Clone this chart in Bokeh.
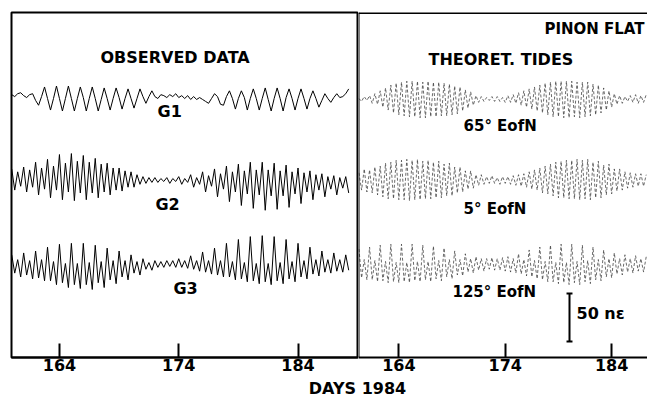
import numpy as np
from bokeh.plotting import figure
from bokeh.layouts import row, column
from bokeh.models import FixedTicker, Span, Label, Range1d
from bokeh.embed import file_html
from bokeh.resources import INLINE

# ---------------- data (strain in nanostrain) -------------
TICKS = [164, 174, 184]
LEFT_START, LEFT_STEP = 160.0, 0.25      # observed series sampling (days 1984)
RIGHT_START, RIGHT_STEP = 160.25, 0.25   # theoretical series sampling

G1 = [4, 2, 5, 6, 3, 1, 4, 5, -2, -7, 2, 12, 0, -12, 0, 13, 0, -13, 0, 13,
      0, -13, 0, 12, 1, -13, 0, 12, 0, -13, -1, 11, 0, -12, 0, 11, 1, -11, 0, 10,
      0, -10, 0, 10, 2, -5, 2, 8, 2, 0, 4, 3, 1, 4, 2, 5, 1, 3, 0, 3,
      -1, 2, -1, 1, -1, -3, -5, 0, 5, 2, -6, -7, 2, 8, 0, -11, 0, 8, 1, -12,
      0, 10, 0, -12, 0, 11, -1, -13, 0, 11, 0, -13, 1, 10, 0, -12, 0, 10, 0, -11,
      0, 8, 0, -9, -2, 5, 0, -4, 1, 5, 1, 2, 5, 10]
G2 = [12, -10, 9, -6, 14, -12, 11, -7, 19, -15, 13, -9, 22, -18, 15, -10,
      27, -20, 18, -12, 28, -21, 20, -13, 26, -20, 19, -13, 23, -18, 17, -12,
      18, -15, 13, -10, 13, -11, 10, -7, 9, -7, 6, -4, 4, -3, 3, -2,
      3, -2, 2, -1, 3, -3, 2, -1, 4, -4, 2, -2, 6, -7, 3, -4,
      9, -12, 5, -6, 12, -17, 7, -9, 15, -22, 9, -12, 17, -26, 10, -14,
      19, -29, 11, -15, 19, -31, 11, -16, 18, -30, 10, -16, 16, -28, 9, -14,
      13, -24, 8, -12, 10, -20, 6, -10, 7, -17, 4, -9, 5, -15, 3, -8, 4, -13]
G3 = [9, -10, 4, -14, 11, -12, 3, -16, 13, -15, 4, -18, 17, -18, 2, -22,
      20, -20, 0, -25, 21, -22, 0, -26, 21, -22, 1, -27, 19, -20, 2, -25,
      16, -17, 3, -21, 13, -14, 3, -17, 9, -10, 2, -12, 5, -6, 1, -7,
      3, -4, 2, -4, 3, -3, 3, -4, 5, -4, 3, -5, 8, -6, 3, -8,
      12, -9, 3, -11, 16, -12, 3, -14, 21, -14, 2, -17, 25, -16, 1, -19,
      28, -18, 0, -21, 29, -19, 0, -22, 28, -18, 1, -21, 25, -16, 2, -19,
      21, -14, 3, -16, 17, -11, 4, -13, 13, -9, 4, -10, 11, -8, 4, -9, 9, -7]
T65 = [1, -2, 3, -1, 4, -4, 6, -5, 9, -8, 12, -11, 15, -14, 17, -16,
       18, -17, 19, -18, 19, -18, 19, -19, 18, -19, 19, -18, 18, -18, 18, -17,
       17, -17, 16, -16, 14, -15, 13, -12, 10, -9, 8, -6, 4, -3, 3, -2,
       2, -1, 3, -2, 3, -2, 2, -3, 4, -3, 5, -4, 7, -6, 9, -8,
       11, -10, 13, -12, 15, -14, 17, -16, 18, -18, 19, -18, 19, -19, 19, -19,
       19, -18, 18, -19, 18, -18, 18, -17, 16, -16, 15, -14, 12, -11, 9, -8,
       6, -5, 4, -4, 3, -2, 4, -3, 5, -4, 4, -3, 5]
T5 = [8, -10, 12, -12, 11, -13, 14, -15, 15, -17, 18, -19, 19, -19, 21, -20,
      21, -20, 22, -21, 21, -20, 22, -20, 20, -19, 21, -19, 19, -18, 20, -18,
      17, -16, 18, -16, 14, -13, 14, -12, 10, -9, 10, -8, 6, -5, 6, -4,
      4, -3, 5, -3, 3, -4, 4, -3, 4, -4, 5, -5, 6, -6, 7, -7,
      9, -9, 11, -10, 13, -13, 15, -14, 17, -16, 19, -18, 20, -18, 21, -19,
      21, -19, 22, -20, 21, -19, 22, -20, 19, -18, 20, -18, 16, -15, 17, -14,
      12, -11, 12, -10, 9, -8, 8, -7, 7, -6, 7, -6, 6]
T125 = [14, -16, 3, -18, 16, -18, 2, -20, 18, -19, 1, -21, 19, -20, 0, -21,
        19, -20, 0, -21, 19, -19, 1, -20, 18, -18, 1, -20, 17, -17, 2, -19,
        15, -15, 3, -17, 12, -13, 3, -14, 9, -10, 4, -11, 6, -8, 4, -9,
        4, -7, 5, -8, 4, -8, 5, -9, 6, -10, 4, -11, 9, -12, 3, -14,
        13, -15, 2, -17, 16, -18, 1, -20, 18, -20, 0, -22, 19, -21, 0, -23,
        19, -21, 1, -23, 18, -20, 2, -22, 16, -18, 3, -19, 13, -15, 4, -16,
        10, -12, 4, -13, 8, -10, 4, -11, 7, -9, 4, -10, 6]
SCALE_BAR = 50  # nanostrain

# ---------------- layout constants ----------------
FONT = "DejaVu Sans"
Y_MAX = 359
OFF_TOP, OFF_MID, OFF_BOT = 269.5, 184.2, 97.8
OFF_TOP_R, OFF_MID_R, OFF_BOT_R = 268.5, 184.2, 98.9
LBL_DY = 6.8   # compensates the label baseline placement

t_left = LEFT_START + LEFT_STEP * np.arange(len(G1))
t_right = RIGHT_START + RIGHT_STEP * np.arange(len(T65))


def style_axis(p):
    ax = p.xaxis[0]
    ax.ticker = FixedTicker(ticks=TICKS)
    ax.major_tick_in = 14
    ax.major_tick_out = 0
    ax.minor_tick_in = 0
    ax.minor_tick_out = 0
    ax.axis_line_width = 2
    ax.axis_line_color = "black"
    ax.major_tick_line_width = 2
    ax.major_tick_line_color = "black"
    ax.major_label_text_font = FONT
    ax.major_label_text_font_style = "bold"
    ax.major_label_text_font_size = "16px"
    ax.major_label_text_color = "black"
    ax.major_label_standoff = 1
    p.grid.visible = False


def label(p, x, y, text, size="16px", align="left"):
    p.add_layout(Label(x=x, y=y + LBL_DY, text=text, text_font=FONT, text_font_style="bold",
                       text_font_size=size, text_align=align,
                       text_baseline="alphabetic", text_color="black"))


# ---------------- left panel: observed ----------------
p1 = figure(width=358, height=376, x_range=Range1d(159.98, 189.07),
            y_range=Range1d(0, Y_MAX), output_backend="svg", toolbar_location=None,
            y_axis_location=None, min_border_left=11, min_border_right=0,
            min_border_top=12, min_border_bottom=19)
p1.outline_line_color = "black"
p1.outline_line_width = 2
p1.background_fill_color = "white"
p1.border_fill_color = "white"
style_axis(p1)

for vals, off in ((G1, OFF_TOP), (G2, OFF_MID), (G3, OFF_BOT)):
    p1.line(t_left, np.array(vals) + off, line_color="black", line_width=1)

label(p1, 167.44, 304.9, "OBSERVED DATA")
label(p1, 172.22, 249.7, "G1")
label(p1, 172.05, 151.9, "G2")
label(p1, 173.56, 64.5, "G3")

# ---------------- right panel: theoretical ----------------
p2 = figure(width=289, height=376, x_range=Range1d(160.21, 187.37),
            y_range=Range1d(0, Y_MAX), output_backend="svg", toolbar_location=None,
            y_axis_location=None, min_border_left=0, min_border_right=0,
            min_border_top=12, min_border_bottom=19)
p2.outline_line_color = None
p2.background_fill_color = "white"
p2.border_fill_color = "white"
style_axis(p2)
p2.add_layout(Span(location=Y_MAX - 0.5, dimension="width", line_color="black", line_width=2))
p2.add_layout(Span(location=160.21, dimension="height", line_color="black", line_width=2))

for vals, off in ((T65, OFF_TOP_R), (T5, OFF_MID_R), (T125, OFF_BOT_R)):
    p2.line(t_right, np.array(vals) + off, line_color="#3a3a3a", line_width=0.75,
            line_dash="3 2")

label(p2, 187.09, 335.0, "PINON FLAT", size="15px", align="right")
label(p2, 166.79, 302.8, "THEORET. TIDES")
label(p2, 170.08, 234.1, "65° EofN", size="15px")
label(p2, 170.08, 147.8, "5° EofN", size="15px")
label(p2, 169.04, 61.4, "125° EofN", size="15px")

sb_x, sb_y0 = 180.04, 16.65
p2.segment(x0=[sb_x, sb_x - 0.28, sb_x - 0.28], y0=[sb_y0, sb_y0, sb_y0 + SCALE_BAR],
           x1=[sb_x, sb_x + 0.28, sb_x + 0.28], y1=[sb_y0 + SCALE_BAR, sb_y0, sb_y0 + SCALE_BAR],
           line_color="black", line_width=2)
label(p2, 180.7, 38.5, "50 nε")

# ---------------- shared x label ----------------
p3 = figure(width=647, height=22, x_range=Range1d(0, 647), y_range=Range1d(0, 22),
            output_backend="svg", toolbar_location=None, x_axis_location=None,
            y_axis_location=None, min_border=0, title=None)
p3.outline_line_color = None
p3.grid.visible = False
p3.add_layout(Label(x=357, y=10.5, text="DAYS 1984", text_font=FONT, text_font_style="bold",
                    text_font_size="16px", text_align="center", text_baseline="alphabetic",
                    text_color="black"))

layout = column(row(p1, p2), p3)
open("out.html", "w").write(file_html(layout, INLINE))
